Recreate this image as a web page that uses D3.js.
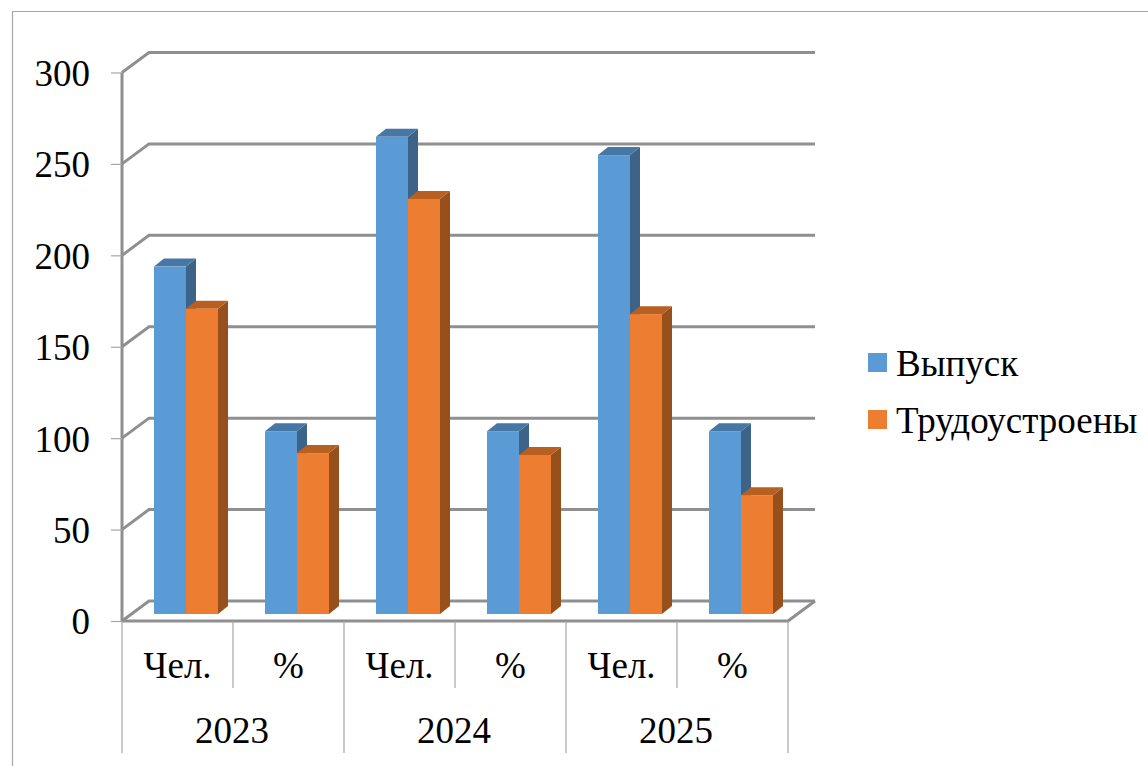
<!DOCTYPE html>
<html>
<head>
<meta charset="utf-8">
<script src="https://cdnjs.cloudflare.com/ajax/libs/d3/7.8.5/d3.min.js"></script>
<style>
  html, body { margin: 0; padding: 0; background: #fff; overflow: hidden; }
  svg { display: block; }
  text { font-family: "Liberation Serif", serif; fill: #000; }
</style>
</head>
<body>
<svg width="1148" height="766"></svg>
<script>
const years = ["2023", "2024", "2025"];
const units = ["Чел.", "%"];
const seriesNames = ["Выпуск", "Трудоустроены"];
const vypusk = [190, 100, 261, 100, 251, 100];
const trud = [167, 88, 227, 87, 164, 65];
const yTicks = [0, 50, 100, 150, 200, 250, 300];

const frontColors = ["#5b9bd5", "#ed7d31"];
const topColors = ["#4677a5", "#b85f22"];
const sideColors = ["#3d6488", "#97501c"];
const gridColor = "#8f8f8f";

const svg = d3.select("svg");

// chart frame
svg.append("path")
  .attr("d", "M12.5,766V11.5H1148")
  .attr("fill", "none")
  .attr("stroke", "#a6a6a6")
  .attr("stroke-width", 1.2);

const categories = d3.range(6);
const x = d3.scaleBand().domain(categories).range([122, 788]);
const xSeries = d3.scaleBand().domain(seriesNames).range([32, 96]);
const y = d3.scaleLinear().domain([0, 300]).range([621, 72.5]);

// depth of the 3D walls and of the bars
const wallX = 27, wallY = -20, barX = 10, barY = -8, barFront = -7;

// gridlines on side wall and back wall
const grid = svg.append("g").attr("fill", "none").attr("stroke", gridColor).attr("stroke-width", 3);
grid.selectAll("path").data(yTicks).enter().append("path")
  .attr("d", d => `M${x.range()[0]},${y(d)}l${wallX},${wallY}H${x.range()[1] + wallX}`);

// floor front edge and right side
grid.append("path")
  .attr("d", `M${x.range()[0]},${y(0)}H${x.range()[1]}l${wallX},${wallY}`);

// value axis line
grid.append("line")
  .attr("x1", x.range()[0]).attr("x2", x.range()[0])
  .attr("y1", y(300)).attr("y2", y(0));

// value axis
const yAxis = svg.append("g")
  .attr("transform", `translate(${x.range()[0]},0)`)
  .call(d3.axisLeft(y).tickValues(yTicks).tickSize(11).tickPadding(21));
yAxis.select(".domain").remove();
yAxis.selectAll(".tick line").attr("stroke", "#a6a6a6").attr("stroke-width", 1.2);
yAxis.selectAll(".tick text")
  .attr("font-size", 37).attr("font-family", "Liberation Serif").attr("fill", "#000")
  .attr("dy", "0.35em");

// category ticks, two levels
const xTicks = svg.append("g").attr("stroke", "#a6a6a6").attr("stroke-width", 1.2);
xTicks.selectAll("line").data(d3.range(7)).enter().append("line")
  .attr("x1", i => x.range()[0] + i * x.step())
  .attr("x2", i => x.range()[0] + i * x.step())
  .attr("y1", y(0))
  .attr("y2", i => i % 2 === 0 ? 753 : 688);

svg.append("g").selectAll("text").data(categories).enter().append("text")
  .attr("x", i => x(i) + x.bandwidth() / 2)
  .attr("y", 678)
  .attr("text-anchor", "middle")
  .attr("font-size", 37)
  .text(i => units[i % 2]);

svg.append("g").selectAll("text").data(years).enter().append("text")
  .attr("x", (d, i) => x(i * 2) + x.bandwidth() - 1)
  .attr("y", 743)
  .attr("text-anchor", "middle")
  .attr("font-size", 37)
  .text(d => d);

// bars
[vypusk, trud].forEach((values, s) => {
  const name = seriesNames[s];
  const bar = svg.append("g").selectAll("g").data(values).enter().append("g");
  const left = (d, i) => x(i) + xSeries(name);
  const w = xSeries.bandwidth();
  const top = d => y(d) + barFront;
  const base = y(0) + barFront;

  bar.append("path").attr("fill", sideColors[s])
    .attr("d", (d, i) => `M${left(d, i) + w},${top(d)}l${barX},${barY}V${base + barY}l${-barX},${-barY}Z`);
  bar.append("path").attr("fill", topColors[s])
    .attr("d", (d, i) => `M${left(d, i)},${top(d)}l${barX},${barY}h${w}l${-barX},${-barY}Z`);
  bar.append("rect").attr("fill", frontColors[s])
    .attr("x", left).attr("y", top)
    .attr("width", w)
    .attr("height", d => base - top(d));
});

// legend
const legend = svg.append("g").selectAll("g").data(seriesNames).enter().append("g")
  .attr("transform", (d, i) => `translate(868,${353 + i * 57})`);
legend.append("rect")
  .attr("width", 19).attr("height", 19)
  .attr("fill", (d, i) => frontColors[i]);
legend.append("text")
  .attr("x", 28).attr("y", 23)
  .attr("font-size", 37)
  .text(d => d);
</script>
</body>
</html>
